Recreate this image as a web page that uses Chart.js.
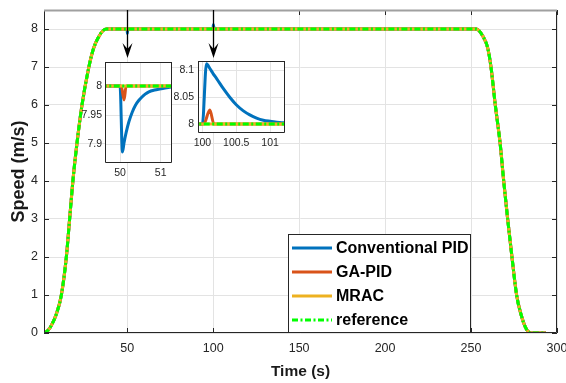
<!DOCTYPE html>
<html>
<head>
<meta charset="utf-8">
<script src="https://cdn.jsdelivr.net/npm/chart.js@4.4.1/dist/chart.umd.min.js"></script>
<style>
    html, body { margin: 0; padding: 0; background: #fff; }
    #wrap { position: relative; width: 566px; height: 383px; }
    #wrap canvas { position: absolute; left: 0; top: 0; }
</style>
</head>
<body>
<div id="wrap">
    <canvas id="mainChart" width="566" height="383"></canvas>
    <canvas id="zoom50" width="566" height="383"></canvas>
    <canvas id="zoom100" width="566" height="383"></canvas>
</div>
<script>
// speed profile shared by all controllers (s, m/s)
const profileTime  = [1.6, 4.0, 5.9, 8.8, 11.7, 14.6, 16.5, 18.4, 20.8, 23.7, 27.7, 30.5, 33.5, 36.0, 38.0,
                      253.0, 257.0, 259.7, 261.6, 264.1, 266.9, 269.0, 271.3, 273.8, 276.5, 279.0, 282.0, 285.0, 293.6];
const profileSpeed = [0, 0.07, 0.2, 0.5, 1.0, 2.0, 3.0, 4.0, 5.0, 6.0, 7.0, 7.5, 7.8, 7.96, 8.0,
                      8.0, 7.8, 7.5, 7.0, 6.0, 5.0, 4.0, 3.0, 2.0, 1.0, 0.5, 0.12, 0.0, 0.0];

// disturbance responses around t = 50 s and t = 100 s
const pidTime50   = [50.0, 50.06, 50.1, 50.15, 50.22, 50.3, 50.38, 50.46, 50.54, 50.62, 50.71, 50.85, 51.0, 51.15, 51.3];
const pidSpeed50  = [8.0, 7.887, 7.903, 7.92, 7.939, 7.955, 7.967, 7.975, 7.981, 7.986, 7.99, 7.993, 7.995, 7.997, 7.998];
const gaTime50    = [50.03, 50.1, 50.15];
const gaSpeed50   = [8.0, 7.976, 8.0];
const pidTime100  = [100.0, 100.06, 100.11, 100.16, 100.21, 100.31, 100.41, 100.5, 100.6, 100.7, 100.8, 100.9, 101.0, 101.2];
const pidSpeed100 = [8.0, 8.113, 8.104, 8.094, 8.085, 8.066, 8.049, 8.036, 8.025, 8.017, 8.011, 8.007, 8.005, 8.002];
const gaTime100   = [100.02, 100.11, 100.17];
const gaSpeed100  = [8.0, 8.026, 8.0];

const timeTicks  = [50, 100, 150, 200, 250, 300];
const speedTicks = [0, 1, 2, 3, 4, 5, 6, 7, 8];
const zoom50TimeTicks   = [50, 50.5, 51];
const zoom50SpeedTicks  = [7.9, 7.95, 8];
const zoom100TimeTicks  = [100, 100.5, 101];
const zoom100SpeedTicks = [8, 8.05, 8.1];

const arrowTimes = [50, 100];
const arrowFrom = 8.5;
const arrowTo = 7.24;

const FONT = '"Liberation Sans", Arial, Helvetica, sans-serif';
const TICK_COLOR = '#262626';

const pts = (xs, ys) => xs.map((x, i) => ({ x, y: ys[i] }));
const merge = (...lists) => lists.flat().sort((a, b) => a.x - b.x);

const profile = pts(profileTime, profileSpeed);
const pidData = merge(profile, pts(pidTime50, pidSpeed50), pts(pidTime100, pidSpeed100));
const gaData = merge(profile, pts(gaTime50, gaSpeed50), pts(gaTime100, gaSpeed100));

const makeDatasets = (w) => [
    { label: 'Conventional PID', data: pidData, borderColor: '#0072BD', borderWidth: w, order: 3 },
    { label: 'GA-PID', data: gaData, borderColor: '#D95319', borderWidth: w, order: 2 },
    { label: 'MRAC', data: profile, borderColor: '#EDB120', borderWidth: w, order: 1 },
    { label: 'reference', data: profile, borderColor: '#00FF00', borderWidth: w, borderDash: [6, 2.5, 2, 2.5], order: 0 }
].map(ds => ({ ...ds, pointRadius: 0, fill: false, cubicInterpolationMode: 'monotone', borderCapStyle: 'butt' }));

// white plot background, inward ticks and the box around the axes
const axesBox = {
    id: 'axesBox',
    beforeDraw(chart) {
        const { ctx, chartArea: a } = chart;
        ctx.save();
        ctx.fillStyle = '#fff';
        ctx.fillRect(a.left, a.top, a.right - a.left, a.bottom - a.top);
        ctx.restore();
    },
    afterDatasetsDraw(chart, args, opts) {
        const { ctx, chartArea: a, scales: { x, y } } = chart;
        const L = opts.tickLen || 0;
        ctx.save();
        ctx.strokeStyle = '#262626';
        ctx.lineWidth = 1;
        ctx.beginPath();
        if (L > 0) {
            x.ticks.forEach(t => {
                const px = Math.round(x.getPixelForValue(t.value)) + 0.5;
                ctx.moveTo(px, a.bottom); ctx.lineTo(px, a.bottom - L);
                ctx.moveTo(px, a.top); ctx.lineTo(px, a.top + L);
            });
            y.ticks.forEach(t => {
                const py = Math.round(y.getPixelForValue(t.value)) + 0.5;
                ctx.moveTo(a.left, py); ctx.lineTo(a.left + L, py);
                ctx.moveTo(a.right, py); ctx.lineTo(a.right - L, py);
            });
        }
        const l = Math.round(a.left) + 0.5, r = Math.round(a.right) - 0.5;
        const t = Math.round(a.top) + 0.5, b = Math.round(a.bottom) - 0.5;
        ctx.moveTo(l, t); ctx.lineTo(l, b); ctx.lineTo(r, b); ctx.lineTo(r, t);
        ctx.stroke();
        ctx.beginPath();
        ctx.strokeStyle = opts.topColor || '#262626';
        ctx.lineWidth = opts.topWidth || 1;
        ctx.moveTo(l - 0.5, t); ctx.lineTo(r + 0.5, t);
        ctx.stroke();
        ctx.restore();
    }
};

// arrows pointing at the zoomed regions
const arrowMarks = {
    id: 'arrowMarks',
    afterDatasetsDraw(chart) {
        const { ctx, scales: { x, y } } = chart;
        ctx.save();
        arrowTimes.forEach(t => {
            const px = Math.round(x.getPixelForValue(t)) + 0.5;
            const top = y.getPixelForValue(arrowFrom);
            const tip = y.getPixelForValue(arrowTo);
            ctx.strokeStyle = '#000';
            ctx.lineWidth = 1.3;
            ctx.beginPath();
            ctx.moveTo(px, top); ctx.lineTo(px, tip - 8);
            ctx.stroke();
            ctx.fillStyle = '#000';
            ctx.beginPath();
            ctx.moveTo(px, tip);
            ctx.lineTo(px - 5, tip - 15);
            ctx.lineTo(px, tip - 9);
            ctx.lineTo(px + 5, tip - 15);
            ctx.closePath();
            ctx.fill();
        });
        ctx.restore();
    }
};

// legend in a box, bottom right of the plot
const boxLegend = {
    id: 'boxLegend',
    afterDraw(chart) {
        const { ctx, chartArea: a } = chart;
        const w = 182, h = 99;
        const x0 = Math.round(a.right - 87 - w), y0 = Math.round(a.bottom - h);
        ctx.save();
        ctx.fillStyle = '#fff';
        ctx.fillRect(x0, y0, w, h);
        ctx.strokeStyle = '#262626';
        ctx.lineWidth = 1;
        ctx.strokeRect(x0 + 0.5, y0 + 0.5, w, h - 1);
        ctx.font = 'bold 16px ' + FONT;
        ctx.textBaseline = 'middle';
        chart.data.datasets.forEach((ds, i) => {
            const yy = y0 + 14 + i * 24;
            ctx.strokeStyle = ds.borderColor;
            ctx.lineWidth = 3;
            ctx.setLineDash(ds.borderDash || []);
            ctx.beginPath();
            ctx.moveTo(x0 + 4, yy); ctx.lineTo(x0 + 44, yy);
            ctx.stroke();
            ctx.setLineDash([]);
            ctx.fillStyle = '#000';
            ctx.fillText(ds.label, x0 + 48, yy + 1);
        });
        ctx.restore();
    }
};

const fixedTicks = (list) => (s) => { s.ticks = list.map(v => ({ value: v })); };
const fmt = (v) => String(+Number(v).toFixed(3));

const makeScales = (cfg) => ({
    x: {
        type: 'linear', min: cfg.xMin, max: cfg.xMax,
        afterBuildTicks: fixedTicks(cfg.xTicks),
        afterFit: (s) => { s.height = cfg.xHeight; s.paddingLeft = 0; s.paddingRight = 0; },
        ticks: { font: { family: FONT, size: cfg.fontSize }, color: TICK_COLOR, padding: cfg.xPad, maxRotation: 0, autoSkip: false, callback: cfg.xLabel || fmt },
        grid: { color: '#e3e3e3', drawTicks: false },
        border: { display: false },
        title: cfg.xTitle ? { display: true, text: cfg.xTitle, color: '#1a1a1a', font: { family: FONT, size: 15.5, weight: 'bold' }, padding: { top: 0, bottom: 1.5 } } : { display: false }
    },
    y: {
        type: 'linear', min: cfg.yMin, max: cfg.yMax,
        afterBuildTicks: fixedTicks(cfg.yTicks),
        afterFit: (s) => { s.width = cfg.yWidth; s.paddingTop = 0; s.paddingBottom = 0; },
        ticks: { font: { family: FONT, size: cfg.fontSize }, color: TICK_COLOR, padding: cfg.yPad, callback: fmt },
        grid: { color: '#e3e3e3', drawTicks: false },
        border: { display: false },
        title: cfg.yTitle ? { display: true, text: cfg.yTitle, color: '#1a1a1a', font: { family: FONT, size: 18, weight: 'bold' }, padding: { top: 8, bottom: 0 } } : { display: false }
    }
});

const baseOptions = (scales, padding, box) => ({
    responsive: false,
    animation: false,
    devicePixelRatio: 1,
    layout: { padding },
    plugins: { legend: { display: false }, tooltip: { enabled: false }, axesBox: box },
    scales
});

new Chart(document.getElementById('mainChart'), {
    type: 'line',
    data: { datasets: makeDatasets(3) },
    options: baseOptions(makeScales({
        xMin: 1.6, xMax: 300, xTicks: timeTicks, xHeight: 50, xPad: 8, xTitle: 'Time (s)',
        yMin: 0, yMax: 8.5, yTicks: speedTicks, yWidth: 44, yPad: 6, yTitle: 'Speed (m/s)',
        fontSize: 12.5
    }), { left: 0, top: 10, right: 9, bottom: 0 }, { tickLen: 5, topColor: '#a0a0a0', topWidth: 2 }),
    plugins: [axesBox, arrowMarks, boxLegend]
});

new Chart(document.getElementById('zoom50'), {
    type: 'line',
    data: { datasets: makeDatasets(3) },
    options: baseOptions(makeScales({
        xMin: 49.63, xMax: 51.28, xTicks: zoom50TimeTicks, xHeight: 20, xPad: 4,
        xLabel: (v) => (Math.abs(v - Math.round(v)) < 1e-6 ? fmt(v) : ''),
        yMin: 7.868, yMax: 8.041, yTicks: zoom50SpeedTicks, yWidth: 30, yPad: 3,
        fontSize: 10.5
    }), { left: 75, top: 62, right: 394, bottom: 200 }, { tickLen: 0 }),
    plugins: [axesBox]
});

new Chart(document.getElementById('zoom100'), {
    type: 'line',
    data: { datasets: makeDatasets(3) },
    options: baseOptions(makeScales({
        xMin: 99.935, xMax: 101.22, xTicks: zoom100TimeTicks, xHeight: 20, xPad: 4,
        yMin: 7.983, yMax: 8.118, yTicks: zoom100SpeedTicks, yWidth: 30, yPad: 4,
        fontSize: 10.5
    }), { left: 168, top: 61, right: 281, bottom: 230 }, { tickLen: 0 }),
    plugins: [axesBox]
});
</script>
</body>
</html>
